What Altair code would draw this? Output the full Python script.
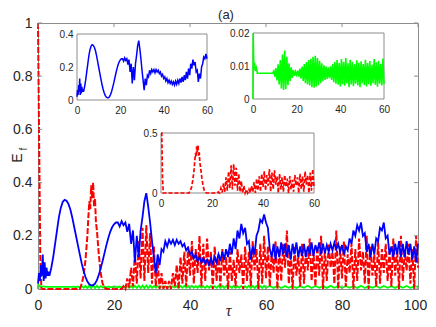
import altair as alt
import pandas as pd

# ---------------- values ----------------
x_ticks = [0, 20, 40, 60, 80, 100]
y_ticks = [0, 0.2, 0.4, 0.6, 0.8, 1]
inset_x_ticks = [0, 20, 40, 60]
blue_inset_y_ticks = [0, 0.2, 0.4]
green_inset_y_ticks = [0, 0.01, 0.02]
red_inset_y_ticks = [0, 0.5]
inset_t_limits = [0, 60]
blue_inset_limits = [0, 0.4]
green_inset_limits = [0, 0.02]
red_inset_limits = [0, 0.5]
panel_label = "(a)"

blue_curve = [
    (0, 0.02), (0.25, 0.06), (0.5, 0.03), (0.75, 0.09), (1, 0.05), (1.25, 0.13), (1.5, 0.03),
    (1.75, 0.10), (2, 0.04), (2.25, 0.08), (2.5, 0.05), (2.75, 0.065),
    (3, 0.05), (3.5, 0.08), (4, 0.12), (4.5, 0.17), (5, 0.22), (5.5, 0.27), (6, 0.305),
    (6.5, 0.327), (7, 0.335), (7.5, 0.332), (8, 0.32), (8.5, 0.30), (9, 0.27), (9.5, 0.235),
    (10, 0.20), (10.5, 0.165), (11, 0.13), (11.5, 0.097), (12, 0.068), (12.5, 0.045),
    (13, 0.028), (13.5, 0.018), (14, 0.014), (14.5, 0.014), (15, 0.02), (15.5, 0.033),
    (16, 0.053), (16.5, 0.078), (17, 0.105), (17.5, 0.135), (18, 0.165), (18.5, 0.192),
    (19, 0.215), (19.5, 0.232), (20, 0.243), (20.5, 0.25),
    (21, 0.25), (21.5, 0.235), (22, 0.255), (22.5, 0.24), (23, 0.25), (23.5, 0.215),
    (24, 0.245), (24.5, 0.17), (25, 0.22), (25.5, 0.10), (26, 0.20), (26.5, 0.12),
    (27, 0.22), (27.5, 0.27), (28, 0.33), (28.5, 0.36), (29, 0.31), (29.5, 0.25),
    (30, 0.18), (30.5, 0.12), (31, 0.06), (31.5, 0.13), (32, 0.09), (32.5, 0.15),
    (33, 0.14), (33.5, 0.18), (34, 0.16), (34.5, 0.185), (35, 0.17), (35.5, 0.185),
    (36, 0.165), (36.5, 0.185), (37, 0.17), (37.5, 0.18), (38, 0.16), (38.5, 0.17),
    (39, 0.145), (39.5, 0.155), (40, 0.13), (40.5, 0.14), (41, 0.115), (41.5, 0.13),
    (42, 0.105), (42.5, 0.12), (43, 0.10), (43.5, 0.115), (44, 0.095), (44.5, 0.11),
    (45, 0.09), (45.5, 0.115), (46, 0.095), (46.5, 0.12), (47, 0.10), (47.5, 0.13),
    (48, 0.105), (48.5, 0.14), (49, 0.11), (49.5, 0.15), (50, 0.12), (50.5, 0.17),
    (51, 0.13), (51.5, 0.19), (52, 0.15), (52.5, 0.22), (53, 0.19), (53.5, 0.245),
    (54, 0.21), (54.5, 0.23), (55, 0.17), (55.5, 0.18), (56, 0.11), (56.5, 0.16),
    (57, 0.13), (57.5, 0.20), (58, 0.22), (58.5, 0.26), (59, 0.25), (59.5, 0.28),
    (60, 0.25), (60.5, 0.23), (61, 0.15), (61.5, 0.12), (62, 0.17), (62.5, 0.11),
    (63, 0.16), (63.5, 0.12), (64, 0.175), (64.5, 0.13), (65, 0.17), (65.5, 0.12),
    (66, 0.165), (66.5, 0.11), (67, 0.17), (67.5, 0.13), (68, 0.175), (68.5, 0.12),
    (69, 0.16), (69.5, 0.125), (70, 0.17), (70.5, 0.12), (71, 0.16), (71.5, 0.13),
    (72, 0.175), (72.5, 0.125), (73, 0.165), (73.5, 0.14), (74, 0.175), (74.5, 0.13),
    (75, 0.17), (75.5, 0.135), (76, 0.165), (76.5, 0.14), (77, 0.17), (77.5, 0.145),
    (78, 0.175), (78.5, 0.15), (79, 0.17), (79.5, 0.14), (80, 0.165), (80.5, 0.13),
    (81, 0.16), (81.5, 0.145), (82, 0.19), (82.5, 0.17), (83, 0.22), (83.5, 0.20),
    (84, 0.24), (84.5, 0.22), (85, 0.25), (85.5, 0.20), (86, 0.21), (86.5, 0.14),
    (87, 0.17), (87.5, 0.12), (88, 0.17), (88.5, 0.13), (89, 0.19), (89.5, 0.18),
    (90, 0.23), (90.5, 0.22), (91, 0.25), (91.5, 0.19), (92, 0.20), (92.5, 0.13),
    (93, 0.16), (93.5, 0.12), (94, 0.17), (94.5, 0.13), (95, 0.18), (95.5, 0.12),
    (96, 0.17), (96.5, 0.12), (97, 0.18), (97.5, 0.13), (98, 0.17), (98.5, 0.11),
    (99, 0.16), (99.5, 0.10), (100, 0.17),
]

red_curve = [
    (0, 1.0), (0.3, 0.55), (0.6, 0.12), (0.9, 0.0), (5, 0.0), (11, 0.0), (11.5, 0.02),
    (12, 0.05), (12.5, 0.11), (13, 0.20), (13.25, 0.27), (13.5, 0.33), (13.75, 0.30),
    (14, 0.39), (14.25, 0.34), (14.5, 0.40), (14.75, 0.31), (15, 0.34), (15.25, 0.25),
    (15.5, 0.22), (16, 0.13), (16.5, 0.06), (17, 0.02), (17.5, 0.005), (18, 0.0), (22, 0.0),
    (22.5, 0.01), (23, 0.0), (23.5, 0.04), (24, 0.005), (24.5, 0.08), (25, 0.01),
    (25.5, 0.13), (26, 0.02), (26.5, 0.18), (27, 0.04), (27.5, 0.23), (28, 0.03),
    (28.5, 0.24), (29, 0.06), (29.5, 0.21), (30, 0.02), (30.5, 0.16), (31, 0.01),
    (31.5, 0.10), (32, 0.0), (32.5, 0.06), (33, 0.0), (33.5, 0.03), (34, 0.0),
    (34.5, 0.03), (35, 0.0), (35.5, 0.06), (36, 0.01), (36.5, 0.09), (37, 0.0),
    (37.5, 0.12), (38, 0.02), (38.5, 0.14), (39, 0.01), (39.5, 0.16), (40, 0.05),
    (40.5, 0.18), (41, 0.02), (41.5, 0.15), (42, 0.06), (42.5, 0.20), (43, 0.01),
    (43.5, 0.17), (44, 0.03), (44.5, 0.19), (45, 0.07), (45.5, 0.14), (46, 0.0),
    (46.5, 0.16), (47, 0.03), (47.5, 0.13), (48, 0.01), (48.5, 0.15), (49, 0.05),
    (49.5, 0.12), (50, 0.0), (50.5, 0.14), (51, 0.03), (51.5, 0.11), (52, 0.01),
    (52.5, 0.15), (53, 0.06), (53.5, 0.13), (54, 0.0), (54.5, 0.16), (55, 0.03),
    (55.5, 0.14), (56, 0.01), (56.5, 0.18), (57, 0.07), (57.5, 0.15), (58, 0.0),
    (58.5, 0.17), (59, 0.02), (59.5, 0.20), (60, 0.04), (60.5, 0.16), (61, 0.01),
    (61.5, 0.14), (62, 0.06), (62.5, 0.18), (63, 0.0), (63.5, 0.15), (64, 0.03),
    (64.5, 0.17), (65, 0.08), (65.5, 0.22), (66, 0.02), (66.5, 0.14), (67, 0.0),
    (67.5, 0.16), (68, 0.05), (68.5, 0.13), (69, 0.01), (69.5, 0.17), (70, 0.02),
    (70.5, 0.15), (71, 0.07), (71.5, 0.19), (72, 0.03), (72.5, 0.14), (73, 0.01),
    (73.5, 0.16), (74, 0.05), (74.5, 0.20), (75, 0.0), (75.5, 0.15), (76, 0.03),
    (76.5, 0.17), (77, 0.08), (77.5, 0.14), (78, 0.02), (78.5, 0.22), (79, 0.0),
    (79.5, 0.16), (80, 0.04), (80.5, 0.18), (81, 0.01), (81.5, 0.13), (82, 0.06),
    (82.5, 0.17), (83, 0.0), (83.5, 0.15), (84, 0.03), (84.5, 0.19), (85, 0.07),
    (85.5, 0.14), (86, 0.02), (86.5, 0.20), (87, 0.0), (87.5, 0.16), (88, 0.05),
    (88.5, 0.13), (89, 0.01), (89.5, 0.18), (90, 0.02), (90.5, 0.15), (91, 0.06),
    (91.5, 0.17), (92, 0.03), (92.5, 0.14), (93, 0.01), (93.5, 0.19), (94, 0.05),
    (94.5, 0.15), (95, 0.0), (95.5, 0.20), (96, 0.03), (96.5, 0.14), (97, 0.07),
    (97.5, 0.17), (98, 0.02), (98.5, 0.15), (99, 0.0), (99.5, 0.20), (100, 0.08),
]

green_curve = [
    (0, 0.0), (0.1, 0.02), (0.3, 0.012), (0.5, 0.009), (0.75, 0.011), (1, 0.0085),
    (1.5, 0.0095), (2, 0.0078), (9, 0.0078),
    (9.5, 0.0085), (10, 0.0068), (10.5, 0.0094), (11, 0.0056), (11.5, 0.0105), (12, 0.0044),
    (12.5, 0.0118), (13, 0.0032), (13.5, 0.0135), (14, 0.0027), (14.5, 0.0147), (15, 0.0030),
    (15.5, 0.0128), (16, 0.0042), (16.5, 0.0108), (17, 0.0055), (17.5, 0.0096), (18, 0.0064),
    (18.5, 0.0088), (19, 0.0070), (19.5, 0.0083), (20, 0.0073), (20.5, 0.0086), (21, 0.0068),
    (21.5, 0.0092), (22, 0.0062), (22.5, 0.0098), (23, 0.0055), (23.5, 0.0106), (24, 0.0048),
    (24.5, 0.0112), (25, 0.0044), (25.5, 0.0118), (26, 0.0041), (26.5, 0.0122), (27, 0.0036),
    (27.5, 0.0128), (28, 0.0034), (28.5, 0.0131), (29, 0.0038), (29.5, 0.0124), (30, 0.0042),
    (30.5, 0.0116), (31, 0.0048), (31.5, 0.0108), (32, 0.0054), (32.5, 0.0102), (33, 0.0058),
    (33.5, 0.0098), (34, 0.0061), (34.5, 0.0096), (35, 0.0063), (35.5, 0.0099), (36, 0.0058),
    (36.5, 0.0106), (37, 0.0051), (37.5, 0.0112), (38, 0.0046), (38.5, 0.0118), (39, 0.0043),
    (39.5, 0.0109), (40, 0.0038), (40.5, 0.0121), (41, 0.0045), (41.5, 0.0113), (42, 0.0040),
    (42.5, 0.0124), (43, 0.0047), (43.5, 0.0108), (44, 0.0036), (44.5, 0.0119), (45, 0.0044),
    (45.5, 0.0112), (46, 0.0039), (46.5, 0.0105), (47, 0.0046), (47.5, 0.0117), (48, 0.0041),
    (48.5, 0.0110), (49, 0.0036), (49.5, 0.0114), (50, 0.0047), (50.5, 0.0106), (51, 0.0042),
    (51.5, 0.0119), (52, 0.0038), (52.5, 0.0109), (53, 0.0045), (53.5, 0.0115), (54, 0.0040),
    (54.5, 0.0104), (55, 0.0048), (55.5, 0.0121), (56, 0.0043), (56.5, 0.0111), (57, 0.0037),
    (57.5, 0.0116), (58, 0.0046), (58.5, 0.0107), (59, 0.0041), (59.5, 0.0123), (60, 0.0045),
    (61, 0.0112), (62, 0.0042), (63, 0.0118), (64, 0.0039), (65, 0.0110), (66, 0.0046),
    (67, 0.0115), (68, 0.0040), (69, 0.0108), (70, 0.0044), (71, 0.0120), (72, 0.0038),
    (73, 0.0113), (74, 0.0045), (75, 0.0109), (76, 0.0041), (77, 0.0117), (78, 0.0043),
    (79, 0.0111), (80, 0.0039), (81, 0.0114), (82, 0.0046), (83, 0.0107), (84, 0.0042),
    (85, 0.0119), (86, 0.0038), (87, 0.0110), (88, 0.0044), (89, 0.0116), (90, 0.0040),
    (91, 0.0112), (92, 0.0045), (93, 0.0108), (94, 0.0041), (95, 0.0118), (96, 0.0043),
    (97, 0.0111), (98, 0.0039), (99, 0.0115), (100, 0.0075),
]

# ---------------- layout / style ----------------
W, H = 380, 266
FRAME = "#8c8c8c"
TXT = "#262626"
FONT = "Liberation Sans"

df_blue = pd.DataFrame(blue_curve, columns=["t", "v"])
df_red = pd.DataFrame(red_curve, columns=["t", "v"])
df_green = pd.DataFrame(green_curve, columns=["t", "v"])


def sc(domain, rng=None, clamp=False):
    kw = dict(domain=domain, nice=False, zero=False)
    if rng is not None:
        kw["range"] = rng
    if clamp:
        kw["clamp"] = True
    return alt.Scale(**kw)


MX = sc([0, 100])
MY = sc([0, 1])

main_x_axis = alt.Axis(values=x_ticks, orient="bottom", ticks=False, domain=False, grid=False,
                       labelFontSize=14, labelFont=FONT, labelColor=TXT, labelPadding=9,
                       labelFlush=False,
                       labelOffset={"condition": {"test": "datum.value === 100", "value": -3},
                                    "value": 0},
                       title="τ", titleFont="Liberation Serif",
                       titleFontStyle="italic", titleFontSize=16, titleFontWeight="normal",
                       titleColor=TXT, titleX=W / 2, titleY=26, titleBaseline="alphabetic")
main_y_axis = alt.Axis(values=y_ticks, orient="left", ticks=False, domain=False, grid=False,
                       format=".1~f", labelFontSize=14, labelFont=FONT, labelColor=TXT,
                       labelPadding=6, labelFlush=False, title=None)


def main_line(df, color, dash=None, width=1.6, axes=False):
    mk = dict(color=color, strokeWidth=width)
    if dash:
        mk["strokeDash"] = dash
    return alt.Chart(df).mark_line(**mk).encode(
        x=alt.X("t:Q", scale=MX, axis=main_x_axis if axes else None),
        y=alt.Y("v:Q", scale=MY, axis=main_y_axis if axes else None),
    )


layers = [
    main_line(df_green, "#00ff00", width=1.8),
    main_line(df_red, "#ff0000", dash=[6, 2], width=2.0),
    main_line(df_blue, "#0000ff", width=1.8, axes=True),
]

# inward tick marks of the main box (MATLAB style, on all four sides)
dfx = pd.DataFrame({"t": x_ticks})
dfy = pd.DataFrame({"v": y_ticks})
for y0, y1 in [(H, H - 4), (0, 4)]:
    layers.append(alt.Chart(dfx).mark_rule(color=FRAME, strokeWidth=1).encode(
        x=alt.X("t:Q", scale=MX, axis=None), y=alt.value(y0), y2=alt.value(y1)))
for x0, x1 in [(0, 4), (W, W - 4)]:
    layers.append(alt.Chart(dfy).mark_rule(color=FRAME, strokeWidth=1).encode(
        y=alt.Y("v:Q", scale=MY, axis=None), x=alt.value(x0), x2=alt.value(x1)))


def inset(df, color, ylim, yticks, yfmt, xr, yr, dash=None, clamp=False, width=1.4):
    xs = sc(inset_t_limits, xr)
    ys = sc(ylim, yr, clamp=clamp)
    box = pd.DataFrame({"x0": [inset_t_limits[0]], "x1": [inset_t_limits[1]],
                        "y0": [ylim[0]], "y1": [ylim[1]]})
    xa = alt.Axis(values=inset_x_ticks, orient="bottom", offset=yr[0] - H, ticks=False,
                  domain=False, grid=False, labelFontSize=10, labelFont=FONT, labelColor=TXT,
                  labelPadding=5, labelFlush=False, title=None, zindex=1)
    ya = alt.Axis(values=yticks, orient="left", offset=-xr[0], ticks=False, domain=False,
                  grid=False, format=yfmt, labelFontSize=10, labelFont=FONT, labelColor=TXT,
                  labelPadding=4, labelFlush=False, title=None, zindex=1)
    rect = alt.Chart(box).mark_rect(fill="white", stroke=FRAME, strokeWidth=1).encode(
        x=alt.X("x0:Q", scale=xs, axis=xa), x2="x1",
        y=alt.Y("y0:Q", scale=ys, axis=ya), y2="y1")
    mk = dict(color=color, strokeWidth=width)
    if dash:
        mk["strokeDash"] = dash
    line = alt.Chart(df).transform_filter(
        alt.datum.t <= inset_t_limits[1]).mark_line(**mk).encode(
        x=alt.X("t:Q", scale=xs, axis=None),
        y=alt.Y("v:Q", scale=ys, axis=None))
    return [rect, line]


layers += inset(df_blue, "#0000ff", blue_inset_limits, blue_inset_y_ticks, ".1~f",
                [39, 169], [77, 11], width=1.5)
layers += inset(df_green, "#00ff00", green_inset_limits, green_inset_y_ticks, ".2~f",
                [215, 346], [76, 10], width=1.6)
layers += inset(df_red, "#ff0000", red_inset_limits, red_inset_y_ticks, ".1~f",
                [123, 276], [170, 110], dash=[4, 2], clamp=True, width=1.7)

# y-axis label E_f (E with subscript f) and the panel label
one = pd.DataFrame({"k": [0]})
layers.append(alt.Chart(one).mark_text(text="E", angle=270, fontSize=14, font=FONT, color=TXT,
                                       baseline="alphabetic", align="center").encode(
    x=alt.value(-16), y=alt.value(135)))
layers.append(alt.Chart(one).mark_text(text="f", angle=270, fontSize=10, font=FONT, color=TXT,
                                       baseline="alphabetic", align="center").encode(
    x=alt.value(-11), y=alt.value(126)))
layers.append(alt.Chart(one).mark_text(text=panel_label, fontSize=13, font=FONT, color=TXT,
                                       baseline="alphabetic", align="center").encode(
    x=alt.value(188), y=alt.value(-4)))

chart = alt.layer(*layers).resolve_scale(x="independent", y="independent").properties(
    width=W, height=H,
    autosize=alt.AutoSizeParams(type="none"),
    padding={"left": 30, "top": 15, "right": 10, "bottom": 30},
).configure_view(stroke=FRAME, strokeWidth=1).configure_axis(grid=False)

chart.save("out.html", embed_options={"renderer": "svg", "actions": False})
